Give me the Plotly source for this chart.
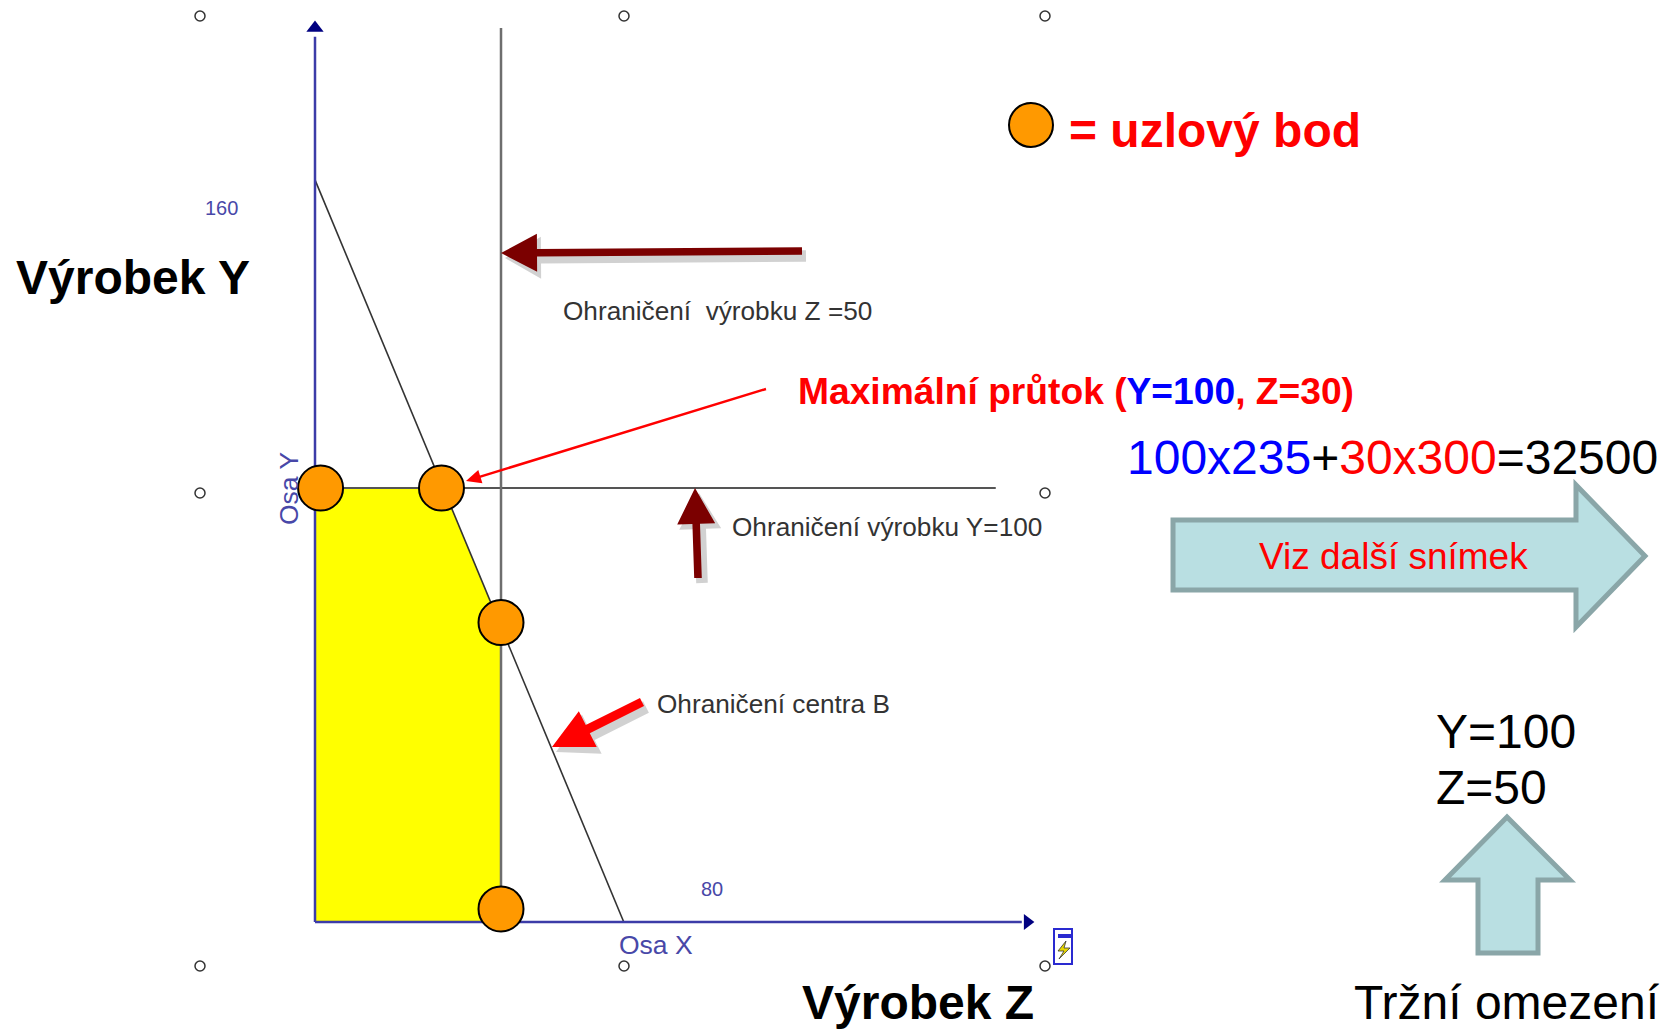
import math
import plotly.graph_objects as go

# ---------------- data (schematic values) ----------------
y_limit = 100                      # Ohraničení výrobku Y=100
z_limit = 50                       # Ohraničení výrobku Z=50
centre_b_Z = [0, 83]               # Ohraničení centra B (intercepts)
centre_b_Y = [171, 0]
feasible_Z = [0, 0, 34.5, 50, 50]  # yellow feasible region
feasible_Y = [0, 100, 100, 68, 0]
node_Z = [1.5, 34, 50, 50]         # uzlové body
node_Y = [100, 100, 69, 3]
y_limit_line_Z = [0, 183]
z_limit_line_Y = [0, 206]
axis_Y_end = 204
axis_Z_end = 190
tick_160 = "160"
tick_80 = "80"

W, H = 1672, 1029
X0_PX, Y0_PX = 315, 922   # pixel position of the origin
SX, SY = 3.72, 4.34       # pixels per unit


def px(x):
    return x / W


def py(y):
    return 1 - y / H


AXIS_BLUE = "#3c3ca8"
TXT_BLUE = "#4848a8"
DARK_RED = "#7b0000"

fig = go.Figure()

# feasible region
fig.add_trace(go.Scatter(x=feasible_Z, y=feasible_Y, mode="lines", fill="toself",
                         fillcolor="#ffff00", line=dict(width=0), hoverinfo="skip"))
# constraint lines
fig.add_trace(go.Scatter(x=y_limit_line_Z, y=[y_limit, y_limit], mode="lines",
                         line=dict(color="#555555", width=2)))
fig.add_trace(go.Scatter(x=[z_limit, z_limit], y=z_limit_line_Y, mode="lines",
                         line=dict(color="#6e6e6e", width=2.5)))
fig.add_trace(go.Scatter(x=centre_b_Z, y=centre_b_Y, mode="lines",
                         line=dict(color="#333333", width=1.6)))
# axes
fig.add_trace(go.Scatter(x=[0, 0], y=[0, axis_Y_end], mode="lines",
                         line=dict(color=AXIS_BLUE, width=2.5)))
fig.add_trace(go.Scatter(x=[0, axis_Z_end], y=[0, 0], mode="lines",
                         line=dict(color=AXIS_BLUE, width=2.5)))
fig.add_trace(go.Scatter(x=[0], y=[axis_Y_end + 2], mode="markers",
                         marker=dict(symbol="triangle-up", size=15, color="#000080")))
fig.add_trace(go.Scatter(x=[axis_Z_end + 1.5], y=[0], mode="markers",
                         marker=dict(symbol="triangle-right", size=14, color="#000080")))
# nodes
fig.add_trace(go.Scatter(x=node_Z, y=node_Y, mode="markers",
                         marker=dict(size=45, color="#ff9900",
                                     line=dict(color="black", width=2))))

shapes = []


def poly_path(pts, dx=0, dy=0):
    return "M " + " L ".join(f"{px(x + dx):.5f},{py(y + dy):.5f}" for x, y in pts) + " Z"


def arrow_path(tail, tip, shaft_hw, head_len, head_hw, dx=0, dy=0):
    x0, y0 = tail
    x1, y1 = tip
    L = math.hypot(x1 - x0, y1 - y0)
    ux, uy = (x1 - x0) / L, (y1 - y0) / L
    nx, ny = -uy, ux
    bx, by = x1 - ux * head_len, y1 - uy * head_len
    pts = [(x0 + nx * shaft_hw, y0 + ny * shaft_hw),
           (bx + nx * shaft_hw, by + ny * shaft_hw),
           (bx + nx * head_hw, by + ny * head_hw),
           (x1, y1),
           (bx - nx * head_hw, by - ny * head_hw),
           (bx - nx * shaft_hw, by - ny * shaft_hw),
           (x0 - nx * shaft_hw, y0 - ny * shaft_hw)]
    return poly_path(pts, dx, dy)


def add_arrow(tail, tip, shw, hl, hhw, color, shadow=True):
    if shadow:
        shapes.append(dict(type="path", xref="paper", yref="paper",
                           path=arrow_path(tail, tip, shw + 2, hl, hhw + 2, 4, 5),
                           fillcolor="rgba(0,0,0,0.18)", line=dict(width=0), layer="above"))
    shapes.append(dict(type="path", xref="paper", yref="paper",
                       path=arrow_path(tail, tip, shw, hl, hhw),
                       fillcolor=color, line=dict(width=0), layer="above"))


# dark red arrows
add_arrow((802, 251), (501, 253), 3.8, 36, 19, DARK_RED)
add_arrow((698, 578), (695, 488), 3.8, 36, 19, DARK_RED)
# red arrow to centre B
add_arrow((642, 702), (552, 747), 4.5, 40, 20, "#ff0000")
# thin red arrow to max point
add_arrow((766, 389), (466, 481), 1.2, 15, 7, "#ff0000", shadow=False)

# big block arrows
right_arrow = [(1173, 520), (1576, 520), (1576, 485), (1645, 556),
               (1576, 627), (1576, 590), (1173, 590)]
shapes.append(dict(type="path", xref="paper", yref="paper", path=poly_path(right_arrow),
                   fillcolor="#b9dfe2", line=dict(color="#8aa6a8", width=5), layer="above"))
up_arrow = [(1507, 817), (1570, 880), (1538, 880), (1538, 953),
            (1478, 953), (1478, 880), (1445, 880)]
shapes.append(dict(type="path", xref="paper", yref="paper", path=poly_path(up_arrow),
                   fillcolor="#b9dfe2", line=dict(color="#8aa6a8", width=5), layer="above"))

# selection handles
for hx, hy in [(200, 16), (624, 16), (1045, 16), (200, 493), (1045, 493),
               (200, 966), (624, 966), (1045, 966)]:
    r = 5
    shapes.append(dict(type="circle", xref="paper", yref="paper",
                       x0=px(hx - r), x1=px(hx + r), y0=py(hy + r), y1=py(hy - r),
                       fillcolor="white", line=dict(color="#333333", width=1.5), layer="above"))

# small icon at bottom right of the image
shapes.append(dict(type="rect", xref="paper", yref="paper",
                   x0=px(1054), x1=px(1072), y0=py(964), y1=py(929),
                   fillcolor="white", line=dict(color="#2a2ad0", width=2), layer="above"))
shapes.append(dict(type="rect", xref="paper", yref="paper",
                   x0=px(1058), x1=px(1072), y0=py(938), y1=py(934),
                   fillcolor="#2a2ad0", line=dict(width=0), layer="above"))
shapes.append(dict(type="path", xref="paper", yref="paper",
                   path=poly_path([(1066, 941), (1058, 951), (1064, 951), (1059, 959), (1070, 948), (1064, 948)]),
                   fillcolor="#e8d800", line=dict(color="#333", width=0.8), layer="above"))

# legend circle
lx, ly, lr = 1031, 125, 22
shapes.append(dict(type="circle", xref="paper", yref="paper",
                   x0=px(lx - lr), x1=px(lx + lr), y0=py(ly + lr), y1=py(ly - lr),
                   fillcolor="#ff9900", line=dict(color="black", width=2), layer="above"))

FONT = "Liberation Sans, Arial, sans-serif"
annotations = []


def text(x, y, s, size, color="black", anchor="left", angle=0):
    annotations.append(dict(x=px(x), y=py(y), xref="paper", yref="paper", text=s,
                            showarrow=False, xanchor=anchor, yanchor="middle",
                            textangle=angle,
                            font=dict(family=FONT, size=size, color=color)))


text(14, 277, "<b>Výrobek Y</b>", 48)
text(800, 1002, "<b>Výrobek Z</b>", 48)
text(1067, 130, "<b>= uzlový bod</b>", 48, "#ff0000")
text(796, 391, "<b>Maximální průtok (<span style='color:#0000ff'>Y=100</span>, Z=30)</b>", 37.2, "#ff0000")
text(1125, 458,
     "<span style='color:#0000ff'>100x235</span>+<span style='color:#ff0000'>30x300</span>=32500",
     48, "black")
text(1393, 556, "Viz další snímek", 37, "#ff0000", anchor="center")
text(1434, 731, "Y=100", 48)
text(1434, 787, "Z=50", 48)
text(1352, 1002, "Tržní omezení", 48)
text(561, 311, "Ohraničení  výrobku Z =50", 26.2, "#333333")
text(730, 527, "Ohraničení výrobku Y=100", 26.2, "#333333")
text(655, 704, "Ohraničení centra B", 26.2, "#333333")
text(221, 208, tick_160, 20, TXT_BLUE, anchor="center")
text(712, 889, tick_80, 20, TXT_BLUE, anchor="center")
text(617, 945, "Osa X", 26.5, TXT_BLUE)
text(289, 489, "Osa Y", 26.5, TXT_BLUE, anchor="center", angle=-90)

fig.update_layout(
    width=W, height=H,
    margin=dict(l=0, r=0, t=0, b=0, pad=0),
    paper_bgcolor="white", plot_bgcolor="white",
    showlegend=False,
    xaxis=dict(range=[-X0_PX / SX, (W - X0_PX) / SX], visible=False, fixedrange=True),
    yaxis=dict(range=[(Y0_PX - H) / SY, Y0_PX / SY], visible=False, fixedrange=True),
    shapes=shapes,
    annotations=annotations,
)

fig.write_html("out.html", config={"displayModeBar": False},
               post_script="document.body.style.margin='0';document.body.style.overflow='hidden';")
